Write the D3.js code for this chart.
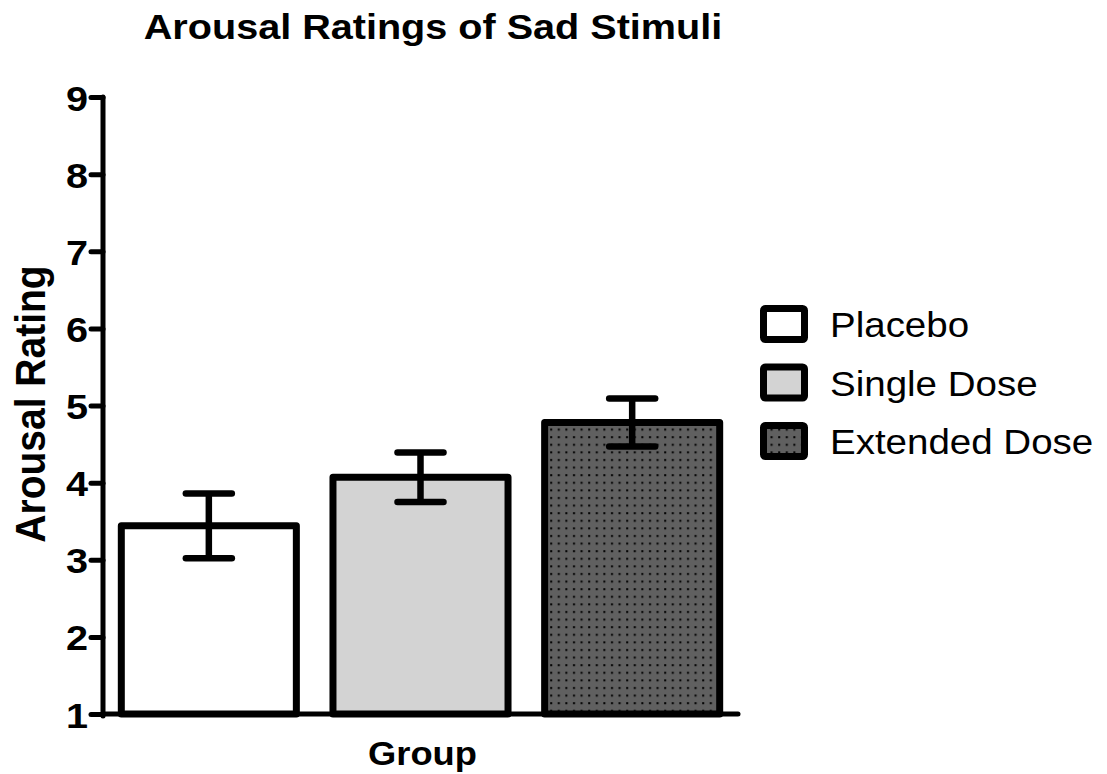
<!DOCTYPE html>
<html>
<head>
<meta charset="utf-8">
<script src="https://cdn.jsdelivr.net/npm/d3@7"></script>
<style>
  html, body { margin: 0; padding: 0; background: #fff; }
  svg { display: block; }
  text { font-family: "Liberation Sans", Arial, Helvetica, sans-serif; fill: #000; }
</style>
</head>
<body>
<svg id="chart" width="1107" height="774"></svg>
<script>
// Mean arousal rating per group, with standard error
const groups = ["Placebo", "Single Dose", "Extended Dose"];
const means = [3.44, 4.07, 4.78];
const sems = [0.42, 0.32, 0.31];
const yTicks = [1, 2, 3, 4, 5, 6, 7, 8, 9];

const title = "Arousal Ratings of Sad Stimuli";
const xTitle = "Group";
const yTitle = "Arousal Rating";

// Fill per group (third group uses a dotted pattern)
const fills = ["#ffffff", "#d3d3d3", "url(#dots)"];
const stretch = 1.1; // horizontal text stretch

const svg = d3.select("#chart");

// Dotted fill
const defs = svg.append("defs");
const pat = defs.append("pattern")
  .attr("id", "dots")
  .attr("patternUnits", "userSpaceOnUse")
  .attr("width", 7.6).attr("height", 7.6);
pat.append("rect").attr("width", 7.6).attr("height", 7.6).attr("fill", "#606060");
pat.append("rect").attr("x", 3).attr("y", 3).attr("width", 2).attr("height", 2).attr("fill", "#000");

const axisX = 103, axisY = 714, axisRight = 740;

const y = d3.scaleLinear().domain([1, 9]).range([axisY, 97]);
const x = d3.scaleBand().domain(groups).range([axisX, 738])
  .paddingInner(0.173).paddingOuter(0.0865);

// Bars
svg.append("g").selectAll("rect")
  .data(groups)
  .join("rect")
  .attr("x", d => x(d))
  .attr("width", x.bandwidth())
  .attr("y", (d, i) => y(means[i]))
  .attr("height", (d, i) => y(1) - y(means[i]))
  .attr("fill", (d, i) => fills[i])
  .attr("stroke", "#000")
  .attr("stroke-width", 7)
  .attr("stroke-linejoin", "round");

// Error bars
const eb = svg.append("g")
  .attr("stroke", "#000")
  .attr("stroke-width", 6.5)
  .attr("stroke-linecap", "round");
groups.forEach((g, i) => {
  const cx = x(g) + x.bandwidth() / 2;
  const hi = y(means[i] + sems[i]);
  const lo = y(means[i] - sems[i]);
  eb.append("line").attr("x1", cx).attr("x2", cx).attr("y1", hi).attr("y2", lo).attr("stroke-linecap", "butt");
  eb.append("line").attr("x1", cx - 23).attr("x2", cx + 23).attr("y1", hi).attr("y2", hi);
  eb.append("line").attr("x1", cx - 23).attr("x2", cx + 23).attr("y1", lo).attr("y2", lo);
});

// Y axis
const yAxis = svg.append("g")
  .attr("transform", `translate(${axisX},0)`)
  .call(d3.axisLeft(y).tickValues(yTicks).tickFormat(d3.format("d")).tickSize(12).tickSizeOuter(0));
yAxis.select(".domain").remove();
yAxis.selectAll(".tick line").attr("stroke", "#000").attr("stroke-width", 5).attr("stroke-linecap", "round");
yAxis.selectAll(".tick text")
  .attr("x", -15 / stretch)
  .attr("dy", 13)
  .attr("transform", `scale(${stretch},1)`)
  .attr("text-anchor", "end")
  .style("font-size", "36px")
  .style("font-weight", "bold")
  .style("font-family", "'Liberation Sans', Arial, sans-serif");
yAxis.attr("font-size", null).attr("font-family", null);

// Axis lines
svg.append("line")
  .attr("x1", axisX).attr("x2", axisX)
  .attr("y1", y(9)).attr("y2", axisY + 2)
  .attr("stroke", "#000").attr("stroke-width", 5).attr("stroke-linecap", "round");
svg.append("line")
  .attr("x1", axisX).attr("x2", axisRight - 2)
  .attr("y1", axisY).attr("y2", axisY)
  .attr("stroke", "#000").attr("stroke-width", 5).attr("stroke-linecap", "round");

// Titles
svg.append("text")
  .attr("transform", `translate(433,39) scale(${stretch},1)`)
  .attr("text-anchor", "middle")
  .style("font-size", "36px").style("font-weight", "bold")
  .text(title);

svg.append("text")
  .attr("transform", `translate(${(axisX + axisRight) / 2 + 1},765) scale(${stretch},1)`)
  .attr("text-anchor", "middle")
  .style("font-size", "33px").style("font-weight", "bold")
  .text(xTitle);

svg.append("text")
  .attr("transform", `translate(45,404) rotate(-90) scale(1,${stretch})`)
  .attr("text-anchor", "middle")
  .style("font-size", "39px").style("font-weight", "bold")
  .text(yTitle);

// Legend
const legend = svg.append("g");
groups.forEach((g, i) => {
  const top = 305 + i * 58.5;
  legend.append("rect")
    .attr("x", 763.5).attr("y", top + 3.5)
    .attr("width", 41).attr("height", 31)
    .attr("rx", 2)
    .attr("fill", fills[i])
    .attr("stroke", "#000").attr("stroke-width", 7)
    .attr("stroke-linejoin", "round");
  legend.append("text")
    .attr("transform", `translate(830,${top + 32}) scale(${stretch},1)`)
    .style("font-size", "35px")
    .text(g);
});
</script>
</body>
</html>
